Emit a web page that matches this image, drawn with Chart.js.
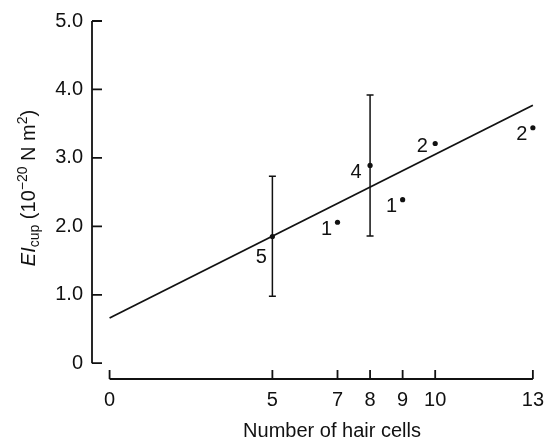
<!DOCTYPE html>
<html>
<head>
<meta charset="utf-8">
<script src="https://cdn.jsdelivr.net/npm/chart.js@4.4.1/dist/chart.umd.min.js"></script>
<style>
  html, body { margin: 0; padding: 0; background: #fff; }
  #wrap { width: 553px; height: 442px; position: relative; }
</style>
</head>
<body>
<div id="wrap"><canvas id="eiChart"></canvas></div>
<script>
// data
const hairCells = [5, 7, 8, 9, 10, 13];
const eiCup = [1.85, 2.06, 2.89, 2.39, 3.21, 3.44];
const nCount = ["5", "1", "4", "1", "2", "2"];
const errLow = [0.98, null, 1.86, null, null, null];
const errHigh = [2.73, null, 3.92, null, null, null];
const fitX = [0, 13];
const fitY = [0.66, 3.77];
const xTicks = [0, 5, 7, 8, 9, 10, 13];
const yTicks = [0, 1, 2, 3, 4, 5];

const FONT = "'Liberation Sans', Arial, sans-serif";
const FS = 20;
Chart.defaults.font.family = FONT;
Chart.defaults.color = "#111";

// count labels: pixel offsets from each dot
const labelOffsets = [[-11, 21], [-11, 7], [-14, 7], [-11, 7], [-13, 3], [-11, 7]];

const axesPlugin = {
  id: "axesPlugin",
  afterDatasetsDraw(chart) {
    const { ctx } = chart;
    const xs = chart.scales.x, ys = chart.scales.y;
    ctx.save();
    ctx.strokeStyle = "#111";
    ctx.lineWidth = 1.8;
    ctx.lineCap = "butt";

    // y axis line + inward ticks
    const yx = chart.chartArea.left;
    ctx.beginPath();
    ctx.moveTo(yx, ys.getPixelForValue(yTicks[yTicks.length - 1]));
    ctx.lineTo(yx, ys.getPixelForValue(yTicks[0]));
    yTicks.forEach(v => {
      const py = ys.getPixelForValue(v);
      ctx.moveTo(yx, py);
      ctx.lineTo(yx + 10, py);
    });
    ctx.stroke();

    // x axis line + upward ticks
    const xy = chart.chartArea.bottom;
    ctx.beginPath();
    ctx.moveTo(xs.getPixelForValue(xTicks[0]), xy);
    ctx.lineTo(xs.getPixelForValue(xTicks[xTicks.length - 1]), xy);
    xTicks.forEach(v => {
      const px = xs.getPixelForValue(v);
      ctx.moveTo(px, xy);
      ctx.lineTo(px, xy - 9);
    });
    ctx.stroke();

    // error bars
    ctx.lineWidth = 1.5;
    hairCells.forEach((xv, i) => {
      if (errLow[i] == null) return;
      const px = xs.getPixelForValue(xv);
      const pLo = ys.getPixelForValue(errLow[i]);
      const pHi = ys.getPixelForValue(errHigh[i]);
      ctx.beginPath();
      ctx.moveTo(px, pLo); ctx.lineTo(px, pHi);
      ctx.moveTo(px - 3.5, pLo); ctx.lineTo(px + 3.5, pLo);
      ctx.moveTo(px - 3.5, pHi); ctx.lineTo(px + 3.5, pHi);
      ctx.stroke();
    });

    // n labels beside points
    ctx.fillStyle = "#111";
    ctx.font = FS + "px " + FONT;
    ctx.textAlign = "center";
    ctx.textBaseline = "middle";
    hairCells.forEach((xv, i) => {
      const px = xs.getPixelForValue(xv) + labelOffsets[i][0];
      const py = ys.getPixelForValue(eiCup[i]) + labelOffsets[i][1];
      ctx.fillText(nCount[i], px, py);
    });

    // x axis title
    ctx.fillText("Number of hair cells", 332, 431);

    // y axis title: EI_cup (10^-20 N m^2)
    ctx.translate(28, 188);
    ctx.rotate(-Math.PI / 2);
    ctx.textAlign = "left";
    ctx.textBaseline = "alphabetic";
    const parts = [
      { t: "EI", f: "italic " + FS + "px " + FONT, dy: 0 },
      { t: "cup", f: "14px " + FONT, dy: 4 },
      { t: " (10", f: FS + "px " + FONT, dy: 0 },
      { t: "\u221220", f: "14px " + FONT, dy: -8 },
      { t: " N m", f: FS + "px " + FONT, dy: 0 },
      { t: "2", f: "14px " + FONT, dy: -8 },
      { t: ")", f: FS + "px " + FONT, dy: 0 }
    ];
    let total = 0;
    parts.forEach(p => { ctx.font = p.f; total += ctx.measureText(p.t).width; });
    let cx = -total / 2;
    parts.forEach(p => {
      ctx.font = p.f;
      ctx.fillText(p.t, cx, 7 + p.dy);
      cx += ctx.measureText(p.t).width;
    });
    ctx.restore();
  }
};

const ctx = document.getElementById("eiChart").getContext("2d");
const eiChart = new Chart(ctx, {
  data: {
    datasets: [
      {
        type: "line",
        data: fitX.map((x, i) => ({ x: x, y: fitY[i] })),
        borderColor: "#111",
        borderWidth: 1.8,
        pointRadius: 0,
        fill: false,
        clip: false
      },
      {
        type: "scatter",
        data: hairCells.map((x, i) => ({ x: x, y: eiCup[i] })),
        backgroundColor: "#111",
        borderColor: "#111",
        pointRadius: 2.6,
        borderWidth: 0,
        clip: false
      }
    ]
  },
  options: {
    responsive: true,
    maintainAspectRatio: false,
    animation: false,
    layout: { padding: { left: 0, right: 20, top: 15, bottom: 0 } },
    plugins: { legend: { display: false }, tooltip: { enabled: false } },
    scales: {
      x: {
        type: "linear",
        min: -0.54,
        max: 13,
        grid: { display: false, drawTicks: false },
        border: { display: false },
        afterBuildTicks: s => { s.ticks = xTicks.map(v => ({ value: v })); },
        afterFit: s => { s.height = 63; },
        ticks: { font: { size: FS }, padding: 9, maxRotation: 0, autoSkip: false, callback: v => String(v) }
      },
      y: {
        type: "linear",
        min: -0.2305,
        max: 5,
        grid: { display: false, drawTicks: false },
        border: { display: false },
        afterBuildTicks: s => { s.ticks = yTicks.map(v => ({ value: v })); },
        afterFit: s => { s.width = 92; },
        ticks: { font: { size: FS }, padding: 9, autoSkip: false, callback: v => (v === 0 ? "0" : v.toFixed(1)) }
      }
    }
  },
  plugins: [axesPlugin]
});
</script>
</body>
</html>
